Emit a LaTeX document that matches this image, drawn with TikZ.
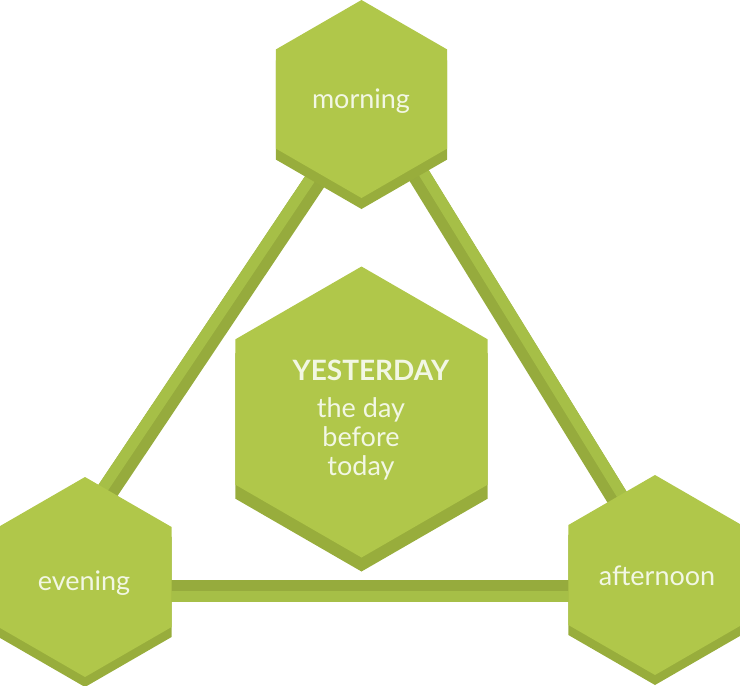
\documentclass[tikz,border=0pt]{standalone}
\usepackage{fontspec}
\setmainfont{Lato}
\usetikzlibrary{calc}
\definecolor{hexface}{RGB}{176,199,74}
\definecolor{hexside}{RGB}{152,173,60}
\definecolor{barlight}{RGB}{166,191,71}
\definecolor{bardark}{RGB}{150,171,61}
\definecolor{hextext}{RGB}{242,247,228}

\begin{document}
\begin{tikzpicture}[x=1pt,y=-1pt,
        bar/.style={line width=22pt,draw=bardark},
        barhalf/.style={line width=11pt,draw=barlight},
        lbl/.style={text=hextext,inner sep=0pt,anchor=base,font=\fontsize{27}{29}\selectfont}]
            \useasboundingbox (0,0) rectangle (740,686);
            % ends of the bars
            \coordinate (m-left) at (370,99);
            \coordinate (m-right) at (372,99);
            \coordinate (e-top) at (50,577);
            \coordinate (a-top) at (665,575);
            \coordinate (e-base) at (85,591);
            \coordinate (a-base) at (655,591);
            \draw[bar] (m-left)--(e-top);
            \draw[barhalf] ($(m-left)!5.5pt!-90:(e-top)$)--($(e-top)!5.5pt!90:(m-left)$);
            \draw[bar] (m-right)--(a-top);
            \draw[barhalf] ($(m-right)!5.5pt!90:(a-top)$)--($(a-top)!5.5pt!-90:(m-right)$);
            \draw[bar] (e-base)--(a-base);
            \draw[barhalf] ($(e-base)!5.5pt!-90:(a-base)$)--($(a-base)!5.5pt!90:(e-base)$);
            % hexagons: centre x / centre y / radius / depth
            \foreach \cx/\cy/\r/\d in {361.5/99/99/11, 85/577/100/10, 655/575/100/10, 361.5/412/145.5/14}{
                \fill[hexside] (\cx,\cy+\d-\r)--(\cx+0.866*\r,\cy+\d-0.5*\r)--(\cx+0.866*\r,\cy+\d+0.5*\r)
                    --(\cx,\cy+\d+\r)--(\cx-0.866*\r,\cy+\d+0.5*\r)--(\cx-0.866*\r,\cy+\d-0.5*\r)--cycle;
                \fill[hexface] (\cx,\cy-\r)--(\cx+0.866*\r,\cy-0.5*\r)--(\cx+0.866*\r,\cy+0.5*\r)
                    --(\cx,\cy+\r)--(\cx-0.866*\r,\cy+0.5*\r)--(\cx-0.866*\r,\cy-0.5*\r)--cycle;
            }
            \node[lbl] (morning) at (361,108) {morning};
            \node[lbl] (evening) at (84,590) {evening};
            \node[lbl] (afternoon) at (657,585) {afternoon};
            \node[lbl,font=\bfseries\fontsize{28}{29}\selectfont] (yesterday) at (371,380) {YESTERDAY};
            \node[lbl,anchor=center,align=center] (meaning) at (361,439) {the day\\before\\today};
        \end{tikzpicture}
\end{document}
